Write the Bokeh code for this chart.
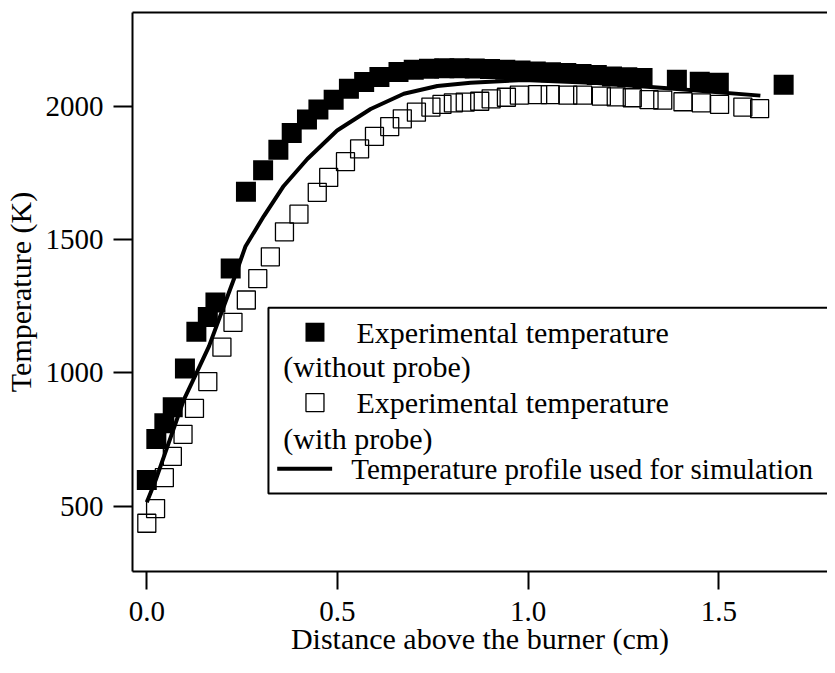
from bokeh.plotting import figure
from bokeh.models import (Range1d, LinearAxis, FixedTicker, PrintfTickFormatter,
                          BoxAnnotation, Label)
from bokeh.embed import file_html
from bokeh.resources import INLINE

# ---------------- data ----------------
without_probe_x = [0.0, 0.025, 0.046, 0.068, 0.10, 0.13, 0.16, 0.18, 0.22, 0.26,
                   0.305, 0.345, 0.38, 0.42, 0.45, 0.49, 0.53, 0.57, 0.61, 0.66,
                   0.70, 0.74, 0.78, 0.82, 0.86, 0.90, 0.94, 0.98, 1.02, 1.06,
                   1.10, 1.14, 1.18, 1.22, 1.26, 1.30, 1.39, 1.45, 1.50, 1.67]
without_probe_T = [598, 752, 811, 871, 1017, 1155, 1210, 1265, 1392, 1680,
                   1761, 1838, 1901, 1951, 1989, 2026, 2067, 2092, 2111, 2130,
                   2138, 2142, 2144, 2144, 2143, 2141, 2138, 2135, 2132, 2129,
                   2126, 2122, 2118, 2113, 2110, 2107, 2101, 2093, 2089, 2082]

with_probe_x = [0.0, 0.023, 0.046, 0.067, 0.095, 0.125, 0.16, 0.197, 0.226, 0.261,
                0.291, 0.324, 0.361, 0.399, 0.447, 0.477, 0.521, 0.558, 0.597, 0.637,
                0.670, 0.707, 0.745, 0.774, 0.804, 0.835, 0.873, 0.903, 0.943, 0.977,
                1.025, 1.058, 1.104, 1.143, 1.192, 1.231, 1.273, 1.317, 1.353, 1.406,
                1.454, 1.502, 1.563, 1.607]
with_probe_T = [436, 491, 607, 687, 770, 867, 968, 1097, 1190, 1274,
                1354, 1436, 1530, 1596, 1678, 1734, 1793, 1841, 1888, 1925,
                1954, 1979, 1998, 2008, 2014, 2017, 2020, 2029, 2035, 2043,
                2045, 2045, 2043, 2043, 2039, 2036, 2033, 2026, 2024, 2018,
                2014, 2008, 1998, 1992]

sim_x = [0.0, 0.023, 0.097, 0.132, 0.163, 0.228, 0.259, 0.307, 0.359, 0.421,
         0.499, 0.587, 0.674, 0.762, 0.849, 0.989, 1.18, 1.365, 1.609]
sim_T = [515, 597, 899, 1005, 1100, 1351, 1476, 1589, 1702, 1803,
         1910, 1991, 2048, 2077, 2089, 2100, 2088, 2069, 2041]

x_ticks = [0.0, 0.5, 1.0, 1.5]
y_ticks = [500, 1000, 1500, 2000]
x_title = "Distance above the burner (cm)"
y_title = "Temperature (K)"
legend_lines = ["Experimental temperature", "(without probe)",
                "Experimental temperature", "(with probe)",
                "Temperature profile used for simulation"]

FONT = "Liberation Serif"

# ---------------- figure ----------------
p = figure(width=827, height=657,
           x_range=Range1d(-0.0375, 1.785), y_range=Range1d(255, 2353),
           output_backend="svg", toolbar_location=None,
           min_border_left=132, min_border_right=0, min_border_top=12,
           min_border_bottom=0)
p.outline_line_color = None
p.xgrid.visible = False
p.ygrid.visible = False
p.background_fill_color = "white"
p.border_fill_color = "white"

for ax, ticks in ((p.xaxis[0], x_ticks), (p.yaxis[0], y_ticks)):
    ax.ticker = FixedTicker(ticks=ticks)
    ax.axis_line_width = 2
    ax.axis_line_color = "black"
    ax.major_tick_line_width = 2
    ax.major_tick_line_color = "black"
    ax.major_tick_in = 0
    ax.minor_tick_in = 0
    ax.minor_tick_out = 0
    ax.major_label_text_font = FONT
    ax.major_label_text_font_size = "29px"
    ax.major_label_text_color = "black"
    ax.axis_label_text_font = FONT
    ax.axis_label_text_font_size = "30px"
    ax.axis_label_text_font_style = "normal"
    ax.axis_label_text_color = "black"

p.xaxis[0].formatter = PrintfTickFormatter(format="%.1f")
p.xaxis[0].major_tick_out = 18
p.xaxis[0].major_label_standoff = 12
p.xaxis[0].axis_label_standoff = -2
p.xaxis[0].axis_label = x_title
p.yaxis[0].major_tick_out = 19
p.yaxis[0].major_label_standoff = 10
p.yaxis[0].axis_label_standoff = 6
p.yaxis[0].axis_label = y_title

top = LinearAxis(ticker=FixedTicker(ticks=[]), axis_line_width=2, axis_line_color="black",
                 major_tick_out=0, major_tick_in=0, minor_tick_out=0, minor_tick_in=0,
                 major_label_text_font_size="0px")
p.add_layout(top, "above")

# ---------------- data renderers ----------------
p.scatter(with_probe_x, with_probe_T, marker="square", size=18,
          fill_color=None, line_color="black", line_width=1.3)
p.scatter(without_probe_x, without_probe_T, marker="square", size=20,
          fill_color="black", line_color=None)
p.line(sim_x, sim_T, line_width=4, line_color="black")

# ---------------- hand-made legend ----------------
leg_left, leg_right, leg_top, leg_bottom = 0.319, 2.2, 1245, 548
row_y = [1153, 1023, 889, 755, 641]
mark_x = 0.441
text_x_main = 0.55
text_x_sub = 0.358

box = BoxAnnotation(left=leg_left, right=leg_right, top=leg_top, bottom=leg_bottom,
                    fill_color=None, fill_alpha=0, line_color="black",
                    line_alpha=1.0, line_width=2)
p.add_layout(box)

p.scatter([mark_x], [row_y[0]], marker="square", size=19, fill_color="black", line_color=None)
p.scatter([mark_x], [row_y[2]], marker="square", size=18, fill_color="white",
          line_color="black", line_width=1.3)
p.line([0.342, 0.486], [row_y[4], row_y[4]], line_width=4, line_color="black")

text_xs = [text_x_main, text_x_sub, text_x_main, text_x_sub, 0.536]
text_sizes = ["30px", "30px", "30px", "30px", "29px"]
for tx, ty, txt, fs in zip(text_xs, row_y, legend_lines, text_sizes):
    p.add_layout(Label(x=tx, y=ty, text=txt, text_font=FONT, text_font_size=fs,
                       text_color="black", text_baseline="middle", text_align="left"))

open("out.html", "w").write(file_html(p, INLINE))
